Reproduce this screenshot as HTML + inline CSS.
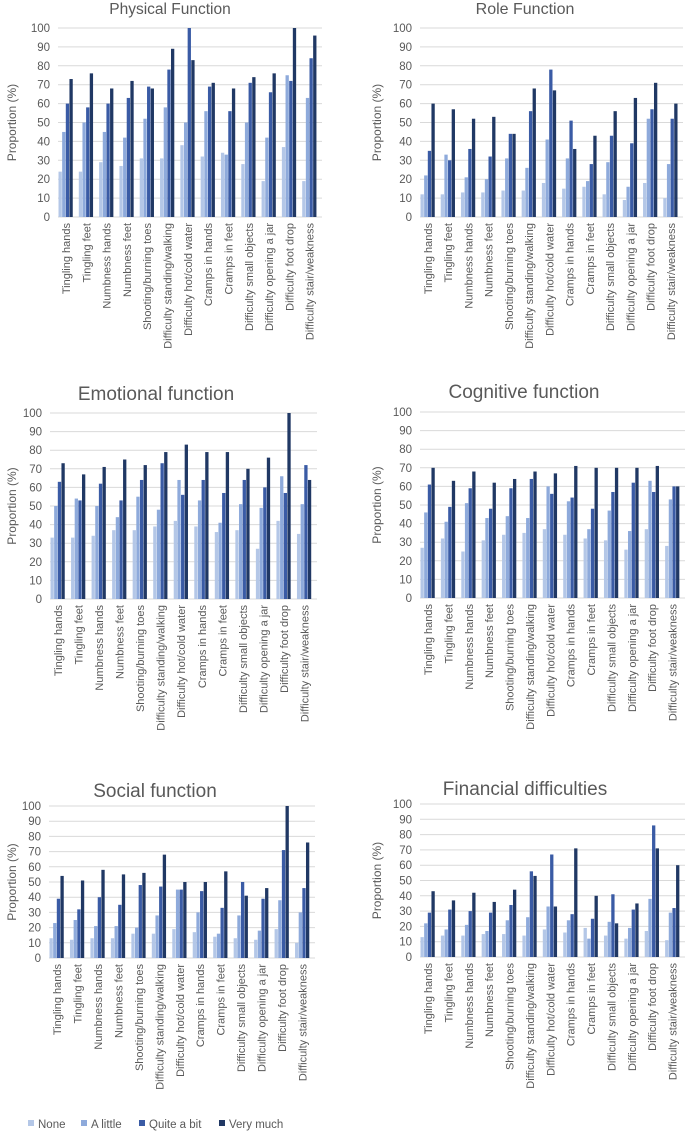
<!DOCTYPE html>
<html><head><meta charset="utf-8">
<style>
html,body{margin:0;padding:0;background:#fff;}
svg{display:block;font-family:"Liberation Sans",sans-serif;}
</style></head>
<body>
<svg id="c" width="685" height="1131" viewBox="0 0 685 1131" xmlns="http://www.w3.org/2000/svg"></svg>
<script>
const categories = ["Tingling hands","Tingling feet","Numbness hands","Numbness feet","Shooting/burning toes","Difficulty standing/walking","Difficulty hot/cold water","Cramps in hands","Cramps in feet","Difficulty small objects","Difficulty opening a jar","Difficulty foot drop","Difficulty stair/weakness"];
const seriesNames = ["None","A little","Quite a bit","Very much"];
const yTicks = [0,10,20,30,40,50,60,70,80,90,100];
const panelTitles = ["Physical Function","Role Function","Emotional function","Cognitive function","Social function","Financial difficulties"];

const physNone=[24,24,29,27,31,31,38,32,34,28,19,37,19];
const physLittle=[45,50,45,42,52,58,50,56,33,50,42,75,63];
const physQuite=[60,58,60,63,69,78,100,69,56,71,66,72,84];
const physVery=[73,76,68,72,68,89,83,71,68,74,76,100,96];

const roleNone=[12,12,13,13,14,14,18,15,16,12,9,18,10];
const roleLittle=[22,33,21,20,31,26,41,31,19,29,16,52,28];
const roleQuite=[35,30,36,32,44,56,78,51,28,43,39,57,52];
const roleVery=[60,57,52,53,44,68,67,36,43,56,63,71,60];

const emoNone=[33,33,34,37,37,39,42,39,36,37,27,42,35];
const emoLittle=[50,54,50,44,55,48,64,53,41,51,49,66,51];
const emoQuite=[63,53,62,53,64,73,56,64,57,64,60,57,72];
const emoVery=[73,67,71,75,72,79,83,79,79,70,76,100,64];

const cogNone=[27,32,25,31,34,35,37,34,32,31,26,37,28];
const cogLittle=[46,41,51,43,44,43,60,52,37,47,36,63,53];
const cogQuite=[61,49,59,48,59,64,56,54,48,57,62,57,60];
const cogVery=[70,63,68,62,64,68,67,71,70,70,70,71,60];

const socNone=[13,12,13,13,16,16,19,17,14,13,12,19,10];
const socLittle=[23,25,21,21,20,28,45,30,16,28,18,38,30];
const socQuite=[39,32,40,35,48,47,45,44,33,50,39,71,46];
const socVery=[54,51,58,55,56,68,50,50,57,41,46,100,76];

const finNone=[13,14,14,15,15,14,18,16,19,14,12,17,11];
const finLittle=[22,18,21,17,24,26,33,24,12,23,19,38,29];
const finQuite=[29,31,30,29,34,56,67,28,25,41,31,86,32];
const finVery=[43,37,42,36,44,53,33,71,40,22,35,71,60];

const panelData=[
 [physNone,physLittle,physQuite,physVery],
 [roleNone,roleLittle,roleQuite,roleVery],
 [emoNone,emoLittle,emoQuite,emoVery],
 [cogNone,cogLittle,cogQuite,cogVery],
 [socNone,socLittle,socQuite,socVery],
 [finNone,finLittle,finQuite,finVery]
];
const colors=["#b4c7e7","#8eaadb","#3a5ba5","#203864"];
// layout: x0,x1,yTop(100),yBot(0),titleX,titleY,axisTitleX,titleSize
const layout=[
 [58,322,28,217,170,14,12,15.5],
 [420,683,28,217,525,14,377,16],
 [50,317,413,599,156,400,12,19],
 [420,685,412,598,524,398,377,19],
 [49,315,806,958,155,797,12,19],
 [420,685,804,957,525,795,377,19]
];
const svg=document.getElementById('c');
const NS="http://www.w3.org/2000/svg";
function mk(tag,attrs,parent){const e=document.createElementNS(NS,tag);for(const k in attrs)e.setAttribute(k,attrs[k]);(parent||svg).appendChild(e);return e;}

panelData.forEach((series,p)=>{
  const [x0,x1,yT,yB,tx,ty,ax,ts]=layout[p];
  const g=mk('g',{});
  
  
  const yS=v=>yB-(v/100)*(yB-yT);
  const gw=(x1-x0)/categories.length;
  const xS=i=>x0+i*gw;
  const t=mk('text',{x:tx,y:ty,'text-anchor':'middle','font-size':ts,fill:'#595959'},g);
  t.textContent=panelTitles[p];
  
  
  yTicks.forEach(v=>{
    const l=mk('line',{x1:x0,x2:x1,y1:yS(v),y2:yS(v),stroke:'#d9d9d9','stroke-width':'1'},g);
    
    
    const lt=mk('text',{x:x0-8,y:yS(v)+4,'text-anchor':'end','font-size':'11.5',fill:'#595959'},g);
    lt.textContent=v;
    
    
  });
  const yc=(yT+yB)/2;
  const at=mk('text',{x:ax,y:yc,'text-anchor':'middle','font-size':'12',fill:'#595959',transform:`rotate(-90 ${ax} ${yc})`,dy:'4'},g);
  at.textContent='Proportion (%)';
  
  
  categories.forEach((c,i)=>{
    series.forEach((arr,s)=>{
      const v=arr[i];
      const r=mk('rect',{x:xS(i)+0.5+s*3.65,y:yS(v),width:3.3,height:yB-yS(v),fill:colors[s]},g);
      
      
    });
    const lx=xS(i)+12, ly=yB+6;
    const ct=mk('text',{x:lx,y:ly,'text-anchor':'end','font-size':'11',fill:'#595959',transform:`rotate(-90 ${lx} ${ly})`},g);
    ct.textContent=c;
    
    
  });
});
// legend
const lg=mk('g',{});


const legX=[28,81,139,219];
seriesNames.forEach((n,s)=>{
  const r=mk('rect',{x:legX[s],y:1120,width:6,height:6,fill:colors[s]},lg);
  
  
  const t=mk('text',{x:legX[s]+10,y:1128,'font-size':'11.5',fill:'#595959'},lg);
  t.textContent=n;
  
  
});
</script>
</body></html>
